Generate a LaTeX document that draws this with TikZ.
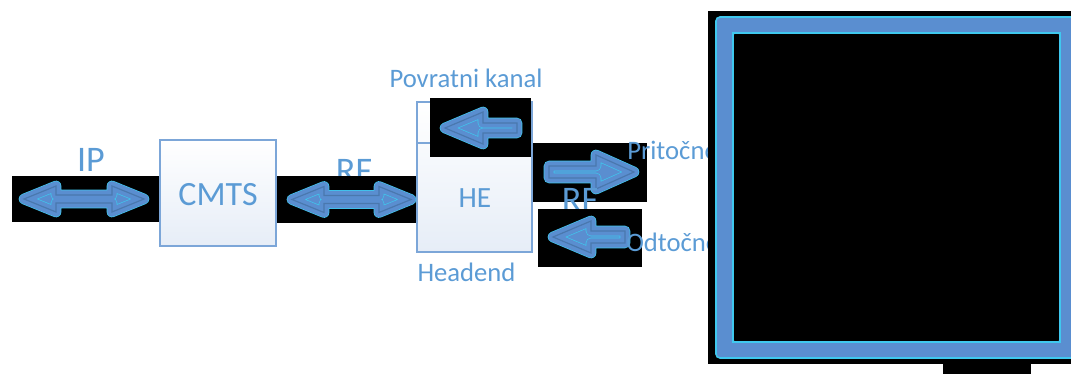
\documentclass[tikz,border=0pt]{standalone}
\usepackage{fontspec}
\setmainfont{Carlito}
\definecolor{tblue}{HTML}{5B9BD5}
\definecolor{ablue}{HTML}{5A8ED0}
\definecolor{adark}{HTML}{4A78AE}
\definecolor{acyan}{HTML}{3FC8EE}
\definecolor{bblue}{HTML}{7CA6D8}
\definecolor{bfill}{HTML}{E6EDF7}
\newcommand\blockarrow[1]{%
  \path[draw=acyan,line width=8,line join=round,fill=ablue] #1;
  \path[draw=ablue,line width=7,line join=round] #1;
  \draw[adark,line width=0.9pt,line join=miter] #1;}
\newcommand\dblarr[3]{%
  \blockarrow{({#1},{#3}) -- ({#1+32},{#3-13}) -- ({#1+32},{#3-4}) -- ({#2-32},{#3-4}) -- ({#2-32},{#3-13}) -- ({#2},{#3}) -- ({#2-32},{#3+13}) -- ({#2-32},{#3+4}) -- ({#1+32},{#3+4}) -- ({#1+32},{#3+13}) -- cycle}}
\newcommand\larr[6]{%
  \blockarrow{({#1},{#3}) -- ({#1+#4},{#3-#5}) -- ({#1+#4},{#3-#6}) -- ({#2},{#3-#6}) -- ({#2},{#3+#6}) -- ({#1+#4},{#3+#6}) -- ({#1+#4},{#3+#5}) -- cycle}}
\newcommand\rarr[6]{%
  \blockarrow{({#2},{#3}) -- ({#2-#4},{#3-#5}) -- ({#2-#4},{#3-#6}) -- ({#1},{#3-#6}) -- ({#1},{#3+#6}) -- ({#2-#4},{#3+#6}) -- ({#2-#4},{#3+#5}) -- cycle}}
\begin{document}
\begin{tikzpicture}[x=0.75pt,y=-0.75pt,
  lbl/.style={text=tblue,inner sep=0pt},
  big/.style={lbl,font=\fontsize{27}{32}\selectfont},
  mid/.style={lbl,font=\fontsize{25.5}{30}\selectfont},
  small/.style={lbl,font=\fontsize{20}{24}\selectfont},
  blk/.style={fill=black},
  boxst/.style={draw=bblue,line width=1.5pt,top color=white,bottom color=bfill}]
\useasboundingbox (0,0) rectangle (1071,374);
\clip (0,0) rectangle (1071,374);
% labels under black
\node[big,anchor=base] (ip) at (91,172) {IP};
\node[big,anchor=base] (rf1) at (354,183) {RF};
% black strips
\fill[blk] (12,176) rectangle (160,222);
\fill[blk] (276,176) rectangle (417,223);
% boxes
\path[boxst] (160,140) rectangle (276,246);
\node[mid,anchor=base] (cmts) at (218,205) {CMTS};
\path[boxst] (417,102) rectangle (532,252);
\draw[bblue,line width=1.5pt] (417,143) -- (532,143);
\node[lbl,anchor=base,font=\fontsize{22}{26}\selectfont] (he) at (475,208) {HE};
\node[small,anchor=base] (pk) at (466,88) {Povratni kanal};
\node[small,anchor=base] (hd) at (466.5,281) {Headend};
\fill[blk] (430,98) rectangle (531,157);
% arrows
\dblarr{24}{144}{199}
\dblarr{292}{411}{199.5}
\larr{445}{517}{128}{38}{16}{5}
% right side
\fill[blk] (533,143) rectangle (647,202);
\rarr{549}{634}{172}{38}{17}{6}
\node[small,anchor=base west] (pr) at (627,160) {Pritočno};
\node[big,anchor=base] (rf2) at (580,212) {RF};
\fill[blk] (538,209) rectangle (642,267);
\larr{553}{625}{237}{38}{16}{6}
\node[small,anchor=base west] (od) at (626,252) {Odtočno};
% big black panel
\fill[blk] (708,11) rectangle (1075,364);
\fill[blk] (943,360) rectangle (1031,378);
\fill[ablue,even odd rule,rounded corners=3] (716,17) rectangle (1078,358) (733,33) rectangle (1060,342);
\draw[acyan,line width=1.2pt,rounded corners=3] (716,17) rectangle (1078,358);
\draw[acyan,line width=1.2pt] (733,33) rectangle (1060,342);
\end{tikzpicture}
\end{document}
